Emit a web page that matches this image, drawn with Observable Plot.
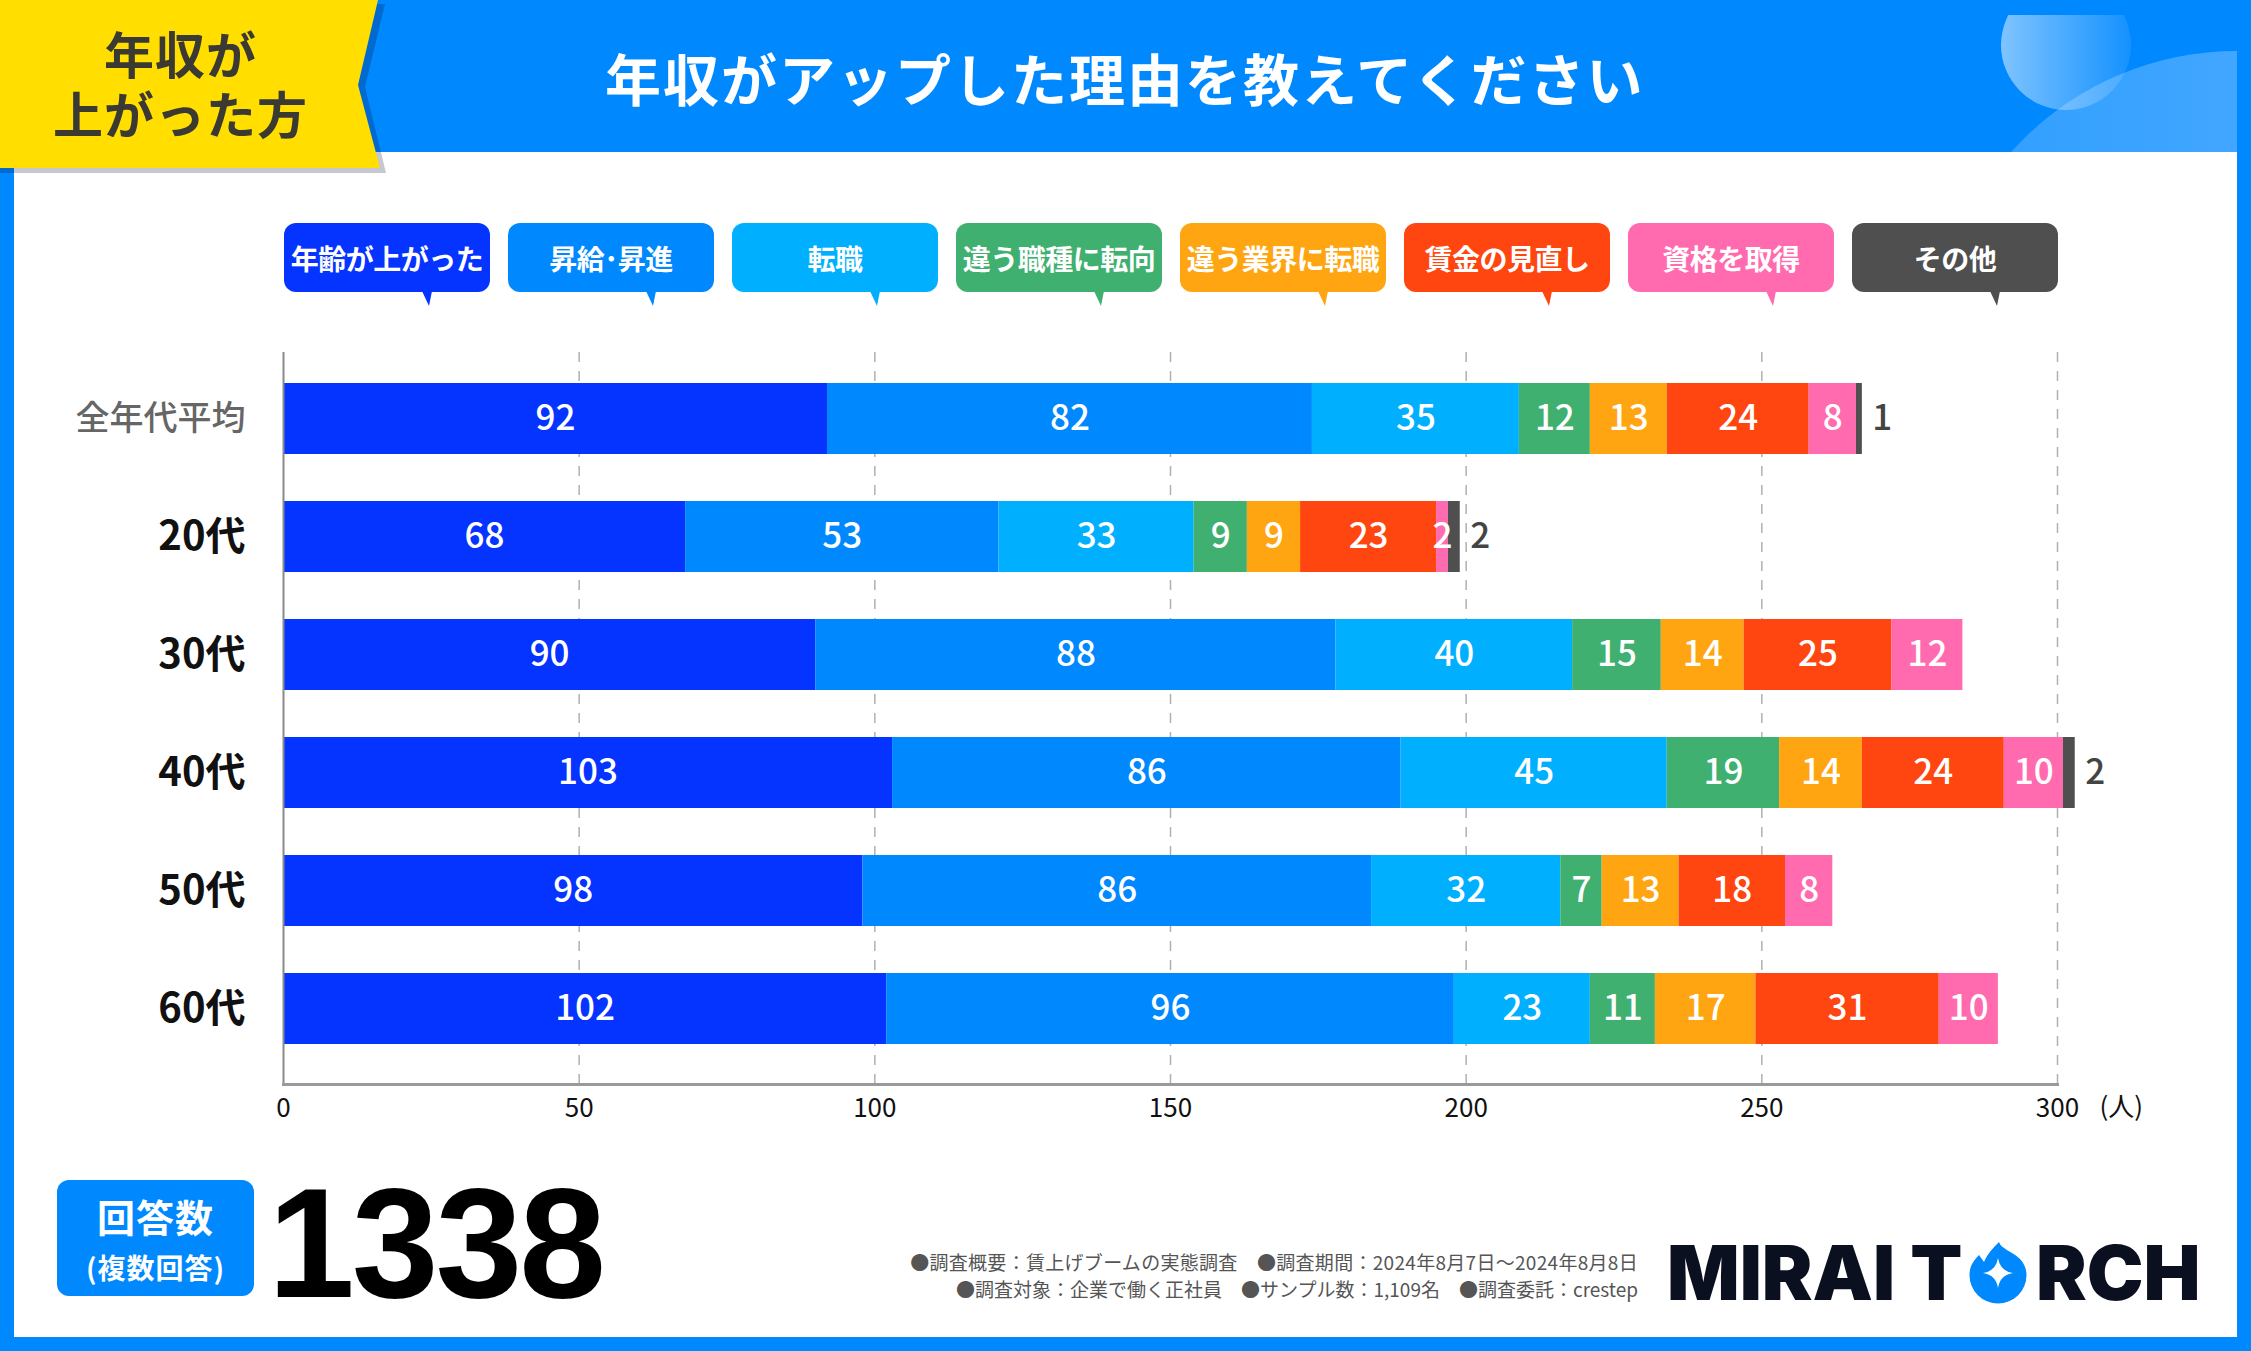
<!DOCTYPE html>
<html lang="ja"><head><meta charset="utf-8">
<script src="https://cdn.jsdelivr.net/npm/d3@7"></script>
<script src="https://cdn.jsdelivr.net/npm/@observablehq/plot@0.6"></script>
<style>
html,body{margin:0;padding:0;}
body{width:2251px;height:1351px;position:relative;overflow:hidden;background:#fff;font-family:"Noto Sans CJK JP","Noto Sans",sans-serif;}
.abs{position:absolute;}
.border{position:absolute;background:#0088ff;}
.lg{position:absolute;top:223px;width:206px;height:69px;border-radius:12px;color:#fff;font-size:28px;font-weight:700;display:flex;align-items:center;justify-content:center;white-space:nowrap;letter-spacing:-0.5px;}
.tail{position:absolute;top:291px;width:10px;height:15px;clip-path:polygon(0 0,100% 0,70% 100%);}
</style></head><body>
<div class="border" style="left:0;top:0;width:14px;height:1351px"></div>
<div class="border" style="right:0;top:0;width:14px;height:1351px"></div>
<div class="border" style="left:0;bottom:0;width:2251px;height:14px"></div>

<svg class="abs" style="left:0;top:0" width="2251" height="180">
  <defs>
    <linearGradient id="g1" x1="0" x2="1" y1="0" y2="0">
      <stop offset="0" stop-color="#fff" stop-opacity="0.5"/>
      <stop offset="1" stop-color="#fff" stop-opacity="0.08"/>
    </linearGradient>
    <linearGradient id="g2" x1="0" x2="1" y1="0" y2="0">
      <stop offset="0" stop-color="#fff" stop-opacity="0.18"/>
      <stop offset="1" stop-color="#fff" stop-opacity="0.33"/>
    </linearGradient>
    <clipPath id="c1"><rect x="0" y="15" width="2251" height="200"/></clipPath>
    <clipPath id="c2"><rect x="0" y="0" width="2237" height="152"/></clipPath>
  </defs>
  <rect x="0" y="0" width="2251" height="152" fill="#0088ff"/>
  <circle cx="2066" cy="45" r="65" fill="url(#g1)" clip-path="url(#c1)"/>
  <circle cx="2237" cy="354" r="303" fill="url(#g2)" clip-path="url(#c2)"/>
  <polygon points="0,4 385,4 365,87 386,173 0,173" fill="rgba(0,0,40,0.22)"/>
  <polygon points="0,0 378,0 358,85 380,168 0,168" fill="#ffde00"/>
</svg>

<div class="abs" style="left:0;width:361px;top:22px;line-height:60px;text-align:center;font-size:50px;font-weight:700;color:#3a3932;letter-spacing:1px;white-space:pre-line">年収が
上がった方</div>
<div class="abs" style="left:605px;top:47px;height:60px;line-height:60px;font-size:56px;font-weight:700;color:#fff;letter-spacing:2px;white-space:nowrap">年収がアップした理由を教えてください</div>

<div id="legend"></div>
<div id="chart" class="abs" style="left:0;top:320px"></div>

<div class="abs" style="left:57px;top:1180px;width:197px;height:116px;border-radius:12px;background:#0088ff;color:#fff;font-weight:700">
  <div class="abs" style="left:0;width:197px;top:16px;height:40px;line-height:40px;text-align:center;font-size:38px;letter-spacing:1px">回答数</div>
  <div class="abs" style="left:0;width:197px;top:71px;height:32px;line-height:32px;text-align:center;font-size:28px;letter-spacing:1px">(複数回答)</div>
</div>
<div class="abs" style="left:268px;top:1165px;height:156px;line-height:156px;font-family:'Liberation Sans',Arial,sans-serif;font-weight:700;font-size:156px;color:#000;letter-spacing:-3px">1338</div>

<div class="abs" style="right:613px;top:1250px;height:24px;line-height:24px;font-size:19px;color:#555;white-space:nowrap;text-align:right;letter-spacing:0.3px">●調査概要：賃上げブームの実態調査　●調査期間：2024年8月7日～2024年8月8日</div>
<div class="abs" style="right:613px;top:1277px;height:24px;line-height:24px;font-size:19px;color:#555;white-space:nowrap;text-align:right">●調査対象：企業で働く正社員　●サンプル数：1,109名　●調査委託：crestep</div>

<div class="abs" style="left:1667px;top:1234px;height:76px;line-height:76px;font-family:Inter,sans-serif;font-weight:900;font-size:76px;color:#0b1020;white-space:nowrap">MIRAI T</div>
<svg class="abs" style="left:1968px;top:1241px" width="62" height="66" viewBox="0 0 62 66">
  <path d="M58.5 34 A28.5 28.5 0 0 1 1.5 34 C1.5 26 5 20 11 14 L16 21 C20 12 26 6 31 1 C33 8 44 10 52 18 C56 22 58.5 28 58.5 34 Z" fill="#0088ff"/>
  <path d="M30 17 Q32 30 45 32 Q32 34 30 47 Q28 34 15 32 Q28 30 30 17 Z" fill="#fff"/>
</svg>
<div class="abs" style="left:2036px;top:1234px;height:76px;line-height:76px;font-family:Inter,sans-serif;font-weight:900;font-size:76px;color:#0b1020;white-space:nowrap">RCH</div>

<script>
// ---- data ----
const groups = ["全年代平均", "20代", "30代", "40代", "50代", "60代"];
const categories = ["年齢が上がった", "昇給･昇進", "転職", "違う職種に転向", "違う業界に転職", "賃金の見直し", "資格を取得", "その他"];
const colors = ["#0533ff", "#0088ff", "#00b0ff", "#40b070", "#ffa511", "#ff4510", "#ff6bae", "#4f4f4f"];
const ageUp      = [92, 68, 90, 103, 98, 102];
const promotion  = [82, 53, 88, 86, 86, 96];
const jobChange  = [35, 33, 40, 45, 32, 23];
const roleChange = [12, 9, 15, 19, 7, 11];
const industry   = [13, 9, 14, 14, 13, 17];
const wageReview = [24, 23, 25, 24, 18, 31];
const license    = [8, 2, 12, 10, 8, 10];
const other      = [1, 2, 0, 2, 0, 0];
const xTicks = [0, 50, 100, 150, 200, 250, 300];
const unitLabel = "(人)";

const series = [ageUp, promotion, jobChange, roleChange, industry, wageReview, license, other];
const otherName = categories[categories.length - 1];
const rows = [];
categories.forEach((c, i) => groups.forEach((g, j) => rows.push({group: g, category: c, value: series[i][j]})));

// ---- legend ----
const legend = document.getElementById("legend");
categories.forEach((c, i) => {
  const left = 284 + i * 224;
  const box = document.createElement("div");
  box.className = "lg";
  box.style.left = left + "px";
  box.style.background = colors[i];
  box.textContent = c;
  legend.appendChild(box);
  const tail = document.createElement("div");
  tail.className = "tail";
  tail.style.left = (left + 138) + "px";
  tail.style.background = colors[i];
  legend.appendChild(tail);
});

// ---- chart ----
const font = "'Noto Sans CJK JP','Noto Sans',sans-serif";
const chart = Plot.plot({
  width: 2251,
  height: 820,
  marginLeft: 283,
  marginRight: 194,
  marginTop: 32,
  marginBottom: 56,
  style: {fontFamily: font, background: "transparent", overflow: "visible"},
  x: {domain: [0, 300], axis: null, label: null},
  y: {domain: groups, paddingInner: 0.4, paddingOuter: 0.276, align: 0.43, axis: null, label: null},
  color: {domain: categories, range: colors},
  marks: [
    Plot.gridX(xTicks.filter(t => t > 0), {stroke: "#b0b0b0", strokeOpacity: 1, strokeWidth: 1.5, strokeDasharray: "10,9"}),
    Plot.barX(rows, Plot.stackX({x: "value", y: "group", z: "category", fill: "category"})),
    Plot.ruleX([0], {stroke: "#8a8a8a", strokeWidth: 2}),
    Plot.frame({anchor: "bottom", stroke: "#9a9a9a", strokeWidth: 3}),
    Plot.text(rows, Plot.stackX({
      x: "value", y: "group", z: "category",
      text: d => (d.category !== otherName && d.value > 0) ? String(d.value) : null,
      fill: "#fff", fontSize: 35, fontWeight: 500
    })),
    Plot.text(rows, Plot.stackX2({
      x: "value", y: "group", z: "category",
      text: d => (d.category === otherName && d.value > 0) ? String(d.value) : null,
      fill: "#444", fontSize: 35, fontWeight: 500, textAnchor: "start", dx: 10
    })),
    Plot.axisX(xTicks, {tickSize: 0, tickPadding: 14, fontSize: 26, fill: "#111", label: null}),
    Plot.text([unitLabel], {frameAnchor: "bottom-right", textAnchor: "start", lineAnchor: "middle", dx: 42, dy: 23, fontSize: 26, fill: "#111"}),
    Plot.axisY([groups[0]], {tickSize: 0, tickPadding: 38, fontSize: 34, fontWeight: 500, fill: "#666", label: null}),
    Plot.axisY(groups.slice(1), {tickSize: 0, tickPadding: 38, fontSize: 40, fontWeight: 700, fill: "#111", label: null})
  ]
});
document.getElementById("chart").appendChild(chart);
</script>
</body></html>
